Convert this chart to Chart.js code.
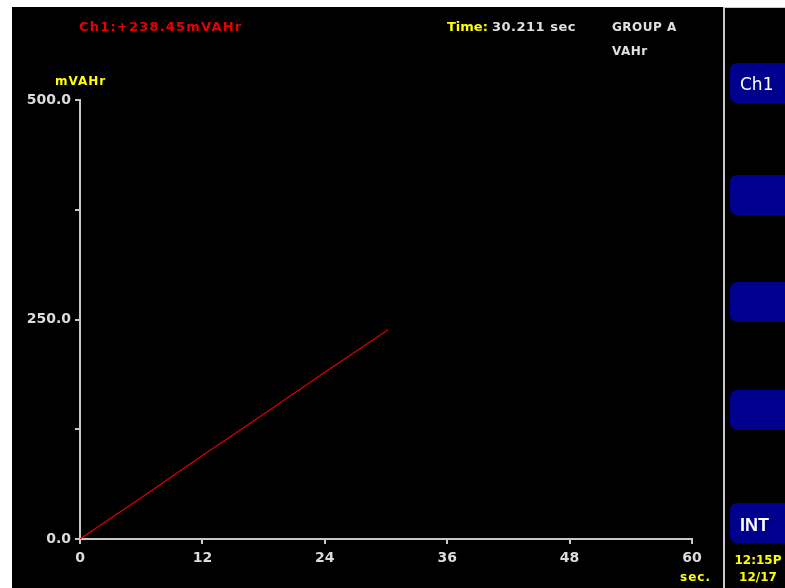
<!DOCTYPE html>
<html>
<head>
<meta charset="utf-8">
<script src="https://cdn.jsdelivr.net/npm/chart.js@4/dist/chart.umd.min.js"></script>
<style>
body { margin: 0; background: #fff; }
canvas { display: block; }
</style>
</head>
<body>
<canvas id="vahrChart" width="785" height="588"></canvas>
<script>
// readings (sec, mVAHr)
var timeSec = [0, 6, 12, 18, 24, 30.211];
var energy = [0, 47, 95, 142, 190, 238.45];
var xTicks = [0, 12, 24, 36, 48, 60];
var yTicks = [0, 125, 250, 375, 500];
var yLabeled = [0, 250, 500];
var buttons = ["Ch1", "", "", "", "INT"];

var points = timeSec.map(function (t, i) { return { x: t, y: energy[i] }; });

var lastT = timeSec[timeSec.length - 1];
var lastE = energy[energy.length - 1];

// panel frame, header readouts and soft-key column
var scopeFrame = {
  id: 'scopeFrame',
  beforeDraw: function (chart) {
    var c = chart.ctx;
    c.save();
    c.fillStyle = '#fff';
    c.fillRect(0, 0, 785, 588);
    c.fillStyle = '#000';
    c.fillRect(12, 7, 711, 581);
    c.fillRect(725, 8, 60, 580);
    c.fillStyle = '#c8c8c8';
    c.fillRect(723, 7, 2, 581);
    c.fillRect(725, 7, 60, 1);
    c.restore();
  },
  afterDraw: function (chart) {
    var c = chart.ctx;
    c.save();
    c.textBaseline = 'middle';
    c.textAlign = 'left';
    c.font = 'bold 13px "DejaVu Sans"';

    c.letterSpacing = '1.2px';
    c.fillStyle = '#e80000';
    c.fillText('Ch1:+' + lastE.toFixed(2) + 'mVAHr', 79, 28);

    c.letterSpacing = '0px';
    c.fillStyle = '#ffff00';
    c.fillText('Time:', 447, 28);
    c.fillStyle = '#e0e0e0';
    c.letterSpacing = '0.5px';
    c.fillText(lastT.toFixed(3) + ' sec', 492, 28);

    c.font = 'bold 12px "DejaVu Sans"';
    c.letterSpacing = '0.5px';
    c.fillText('GROUP A', 612, 28);
    c.fillText('VAHr', 612, 52);

    c.fillStyle = '#ffff00';
    c.letterSpacing = '1px';
    c.fillText('mVAHr', 55, 82);
    c.textAlign = 'right';
    c.fillText('sec.', 711, 578);

    // soft keys
    var keyY = [63, 175, 282, 390, 503];
    c.letterSpacing = '0px';
    buttons.forEach(function (label, i) {
      c.fillStyle = '#00008f';
      c.beginPath();
      c.roundRect(730, keyY[i], 70, 40, 7);
      c.fill();
      if (label) {
        c.fillStyle = '#fff';
        c.textAlign = 'left';
        c.font = label === 'INT' ? 'bold 18px "Liberation Sans"' : '17px "DejaVu Sans"';
        c.fillText(label, 740, keyY[i] + 23);
      }
    });

    c.fillStyle = '#ffff00';
    c.font = 'bold 12px "DejaVu Sans"';
    c.textAlign = 'center';
    c.fillText('12:15P', 758, 561);
    c.fillText('12/17', 758, 578);
    c.restore();
  }
};

var ctx = document.getElementById('vahrChart').getContext('2d');
var myChart = new Chart(ctx, {
  type: 'line',
  data: {
    datasets: [{
      label: 'Ch1',
      data: points,
      borderColor: '#e00000',
      borderWidth: 1.2,
      pointRadius: 0,
      fill: false,
      tension: 0
    }]
  },
  options: {
    responsive: false,
    animation: false,
    layout: { autoPadding: false, padding: { left: 0, top: 100, right: 93, bottom: 0 } },
    plugins: { legend: { display: false }, tooltip: { enabled: false } },
    scales: {
      x: {
        type: 'linear',
        min: xTicks[0],
        max: xTicks[xTicks.length - 1],
        afterBuildTicks: function (s) { s.ticks = xTicks.map(function (v) { return { value: v }; }); },
        afterFit: function (s) { s.height = 49; },
        border: { color: '#c8c8c8', width: 2 },
        grid: { drawOnChartArea: false, drawTicks: true, tickLength: 5, color: '#c8c8c8', lineWidth: 2 },
        ticks: { color: '#dcdcdc', font: { family: 'DejaVu Sans', size: 14, weight: 'bold' }, padding: 6, maxRotation: 0, autoSkip: false }
      },
      y: {
        type: 'linear',
        min: yTicks[0],
        max: yTicks[yTicks.length - 1],
        afterBuildTicks: function (s) { s.ticks = yTicks.map(function (v) { return { value: v }; }); },
        afterFit: function (s) { s.width = 80; },
        border: { color: '#c8c8c8', width: 2 },
        grid: { drawOnChartArea: false, drawTicks: true, tickLength: 5, color: '#c8c8c8', lineWidth: 2 },
        ticks: {
          color: '#dcdcdc',
          font: { family: 'DejaVu Sans', size: 14, weight: 'bold' },
          padding: 4,
          autoSkip: false,
          callback: function (v) { return yLabeled.indexOf(v) >= 0 ? v.toFixed(1) : ''; }
        }
      }
    }
  },
  plugins: [scopeFrame]
});
</script>
</body>
</html>
